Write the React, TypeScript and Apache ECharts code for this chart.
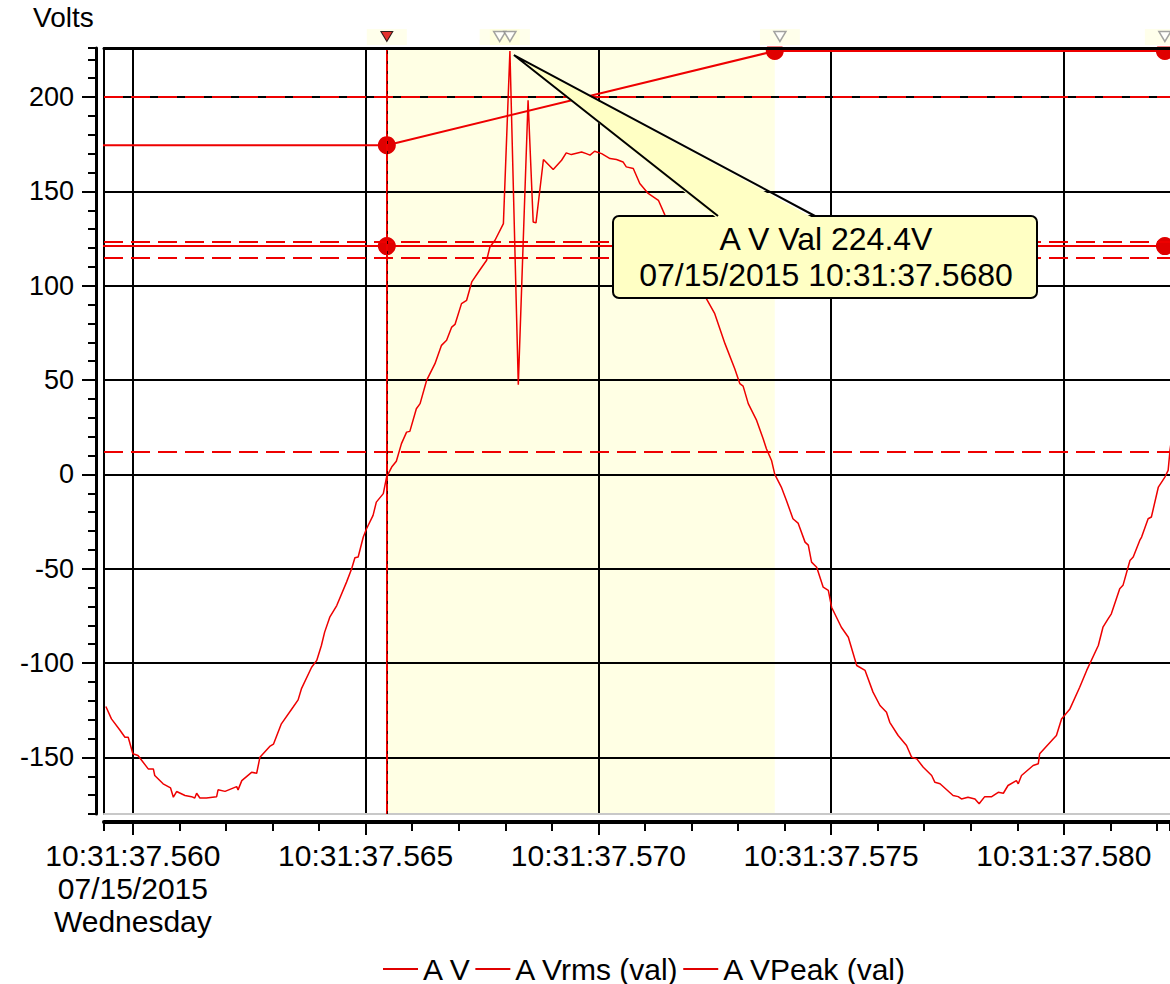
import React, { useEffect, useRef } from 'react';
import * as echarts from 'echarts';

const FONT = '"Liberation Sans", Arial, Helvetica, sans-serif';

// x values: milliseconds after 10:31:37.560 on 07/15/2015
const xMin = -0.62;
const xMax = 22.28;
const yMin = -180;
const yMax = 226;

const xTickValues = [0, 5, 10, 15, 20];
const xTickLabels = [
  '10:31:37.560\n07/15/2015\nWednesday',
  '10:31:37.565',
  '10:31:37.570',
  '10:31:37.575',
  '10:31:37.580',
];
const yTickValues = [-150, -100, -50, 0, 50, 100, 150, 200];
const yTickLabels = ['-150', '-100', '-50', '0', '50', '100', '150', '200'];

const seriesNames = ['A V', 'A Vrms (val)', 'A VPeak (val)'];

const avData: number[][] = [
  [-0.58, -123.0], [-0.46, -129.6], [-0.28, -135.5], [-0.17, -139.3], [-0.10, -139.3],
  [0.00, -148.1], [0.11, -149.0], [0.33, -156.1], [0.44, -156.1], [0.47, -159.6],
  [0.65, -164.0], [0.81, -166.2], [0.87, -171.1], [0.94, -168.1], [1.12, -170.2],
  [1.26, -170.8], [1.33, -171.5], [1.37, -169.0], [1.44, -171.5], [1.58, -171.5],
  [1.80, -170.8], [1.83, -167.2], [1.98, -168.0], [2.23, -165.5], [2.26, -167.2],
  [2.34, -162.3], [2.55, -157.9], [2.66, -158.4], [2.73, -149.9], [2.94, -144.2],
  [3.02, -143.0], [3.19, -132.2], [3.44, -123.4], [3.55, -119.5], [3.62, -113.7],
  [3.84, -102.2], [3.95, -98.6], [4.05, -90.7], [4.12, -83.6], [4.23, -75.7],
  [4.38, -69.5], [4.59, -57.1], [4.70, -50.0], [4.77, -44.2], [4.84, -43.8],
  [4.95, -33.2], [5.02, -28.8], [5.16, -21.7], [5.23, -14.7], [5.38, -10.2],
  [5.45, -1.4], [5.56, 3.9], [5.66, 7.0], [5.77, 16.3], [5.88, 22.4],
  [5.95, 22.8], [6.09, 34.8], [6.17, 37.5], [6.31, 49.8], [6.49, 58.7],
  [6.63, 68.4], [6.74, 71.1], [6.85, 78.1], [6.92, 79.5], [7.06, 90.5],
  [7.17, 92.3], [7.28, 102.0], [7.45, 108.2], [7.60, 113.5], [7.67, 120.5],
  [7.78, 124.1], [7.96, 132.9], [8.10, 224.4], [8.28, 47.5], [8.49, 198.3],
  [8.60, 133.8], [8.66, 133.3], [8.82, 166.9], [9.03, 161.6], [9.21, 166.5],
  [9.31, 170.4], [9.42, 169.5], [9.64, 170.9], [9.74, 170.0], [9.82, 169.2],
  [9.92, 171.3], [10.07, 170.0], [10.25, 167.4], [10.39, 166.9], [10.53, 165.6],
  [10.60, 163.0], [10.75, 162.1], [10.89, 154.2], [11.07, 148.9], [11.29, 145.3],
  [11.43, 137.4], [11.60, 128.5], [11.78, 120.0], [11.95, 111.0], [12.12, 102.5],
  [12.32, 93.2], [12.50, 85.2], [12.72, 69.3], [12.93, 56.0], [13.04, 48.1],
  [13.11, 46.8], [13.22, 37.5], [13.40, 28.6], [13.54, 18.9], [13.61, 13.6],
  [13.72, 7.4], [13.79, 0.0], [13.93, -6.7], [14.04, -13.8], [14.18, -23.5],
  [14.29, -25.8], [14.44, -35.9], [14.51, -37.5], [14.58, -46.5], [14.69, -49.2],
  [14.83, -59.8], [14.94, -61.5], [15.01, -70.4], [15.22, -81.0], [15.37, -86.3],
  [15.55, -101.3], [15.73, -103.9], [15.90, -115.4], [16.05, -122.5], [16.19, -126.1],
  [16.26, -131.4], [16.44, -138.4], [16.62, -143.7], [16.73, -149.9], [16.84, -150.8],
  [16.98, -155.2], [17.16, -159.6], [17.23, -163.2], [17.34, -164.0], [17.62, -170.2],
  [17.73, -170.8], [17.80, -172.0], [17.94, -171.1], [18.09, -172.0], [18.18, -174.6],
  [18.30, -170.8], [18.45, -170.8], [18.59, -168.5], [18.70, -169.0], [18.80, -164.9],
  [18.98, -162.3], [19.02, -164.0], [19.09, -159.6], [19.34, -154.3], [19.45, -153.4],
  [19.48, -148.1], [19.77, -140.2], [19.84, -138.4], [19.95, -129.6], [20.13, -124.3],
  [20.34, -112.8], [20.49, -103.9], [20.74, -90.7], [20.84, -81.0], [20.95, -76.6],
  [21.02, -73.9], [21.20, -60.6], [21.27, -58.8], [21.42, -45.6], [21.49, -43.8],
  [21.63, -35.0], [21.67, -33.2], [21.81, -23.5], [21.88, -22.6], [22.03, -6.7],
  [22.17, -1.4], [22.24, 2.1], [22.28, 12.7], [22.32, 20.0],
];

const vrmsData: number[][] = [[-3, 121.0], [5.456, 121.0], [22.17, 121.0], [26, 121.0]];
const vpeakData: number[][] = [[-3, 174.5], [5.456, 174.5], [13.79, 224.4], [22.17, 224.4], [26, 224.4]];

const limitLines = [200, 123.2, 114.7, 11.8];
const cursorT = 5.456;
const shadedRange = [5.456, 13.79];
const eventMarkers = [7.88, 8.10, 13.90, 22.17];
const peakPoint = [8.10, 224.4];
const peakTimeLabel = '07/15/2015 10:31:37.5680';

const RED = '#EE0000';
const DOT = '#E00000';

export default function App() {
  const ref = useRef<HTMLDivElement>(null);

  useEffect(() => {
    if (!ref.current) return;
    const chart = echarts.init(ref.current, null, { renderer: 'svg' });

    const baseX = { type: 'value', min: xMin, max: xMax, gridIndex: 0 };
    const baseY = { type: 'value', min: yMin, max: yMax, gridIndex: 0 };
    const hiddenParts = {
      axisLabel: { show: false },
      splitLine: { show: false },
      axisTick: { show: false },
    };

    const option: any = {
      animation: false,
      backgroundColor: '#ffffff',
      textStyle: { fontFamily: FONT },
      title: {
        text: 'Volts',
        left: 33,
        top: 3,
        padding: 0,
        textStyle: { fontSize: 28, fontWeight: 'normal', color: '#000', fontFamily: FONT },
      },
      grid: { left: 104, top: 48, right: 0, bottom: 170, show: false, containLabel: false, outerBoundsMode: 'none' },
      legend: {
        data: seriesNames,
        left: 383,
        top: 954,
        padding: 0,
        icon: 'rect',
        itemWidth: 35,
        itemHeight: 2,
        itemGap: 4,
        selectedMode: false,
        textStyle: { fontSize: 30, color: '#000', fontFamily: FONT },
      },
      xAxis: [
        {
          ...baseX,
          position: 'bottom',
          offset: 8,
          minInterval: 5,
          maxInterval: 5,
          axisLine: { show: true, onZero: false, lineStyle: { color: '#000', width: 4 } },
          axisTick: { show: true, length: 13, lineStyle: { color: '#000', width: 2 }, customValues: xTickValues },
          axisLabel: {
            show: true,
            customValues: xTickValues,
            margin: 17,
            fontSize: 30,
            lineHeight: 33,
            color: '#000',
            fontFamily: FONT,
            formatter: (v: number) => {
              const i = xTickValues.findIndex((t) => Math.abs(t - v) < 1e-6);
              return i >= 0 ? xTickLabels[i] : '';
            },
          },
          splitLine: { show: true, lineStyle: { color: '#000', width: 2 } },
        },
        {
          ...baseX,
          position: 'bottom',
          offset: 8,
          minInterval: 1,
          maxInterval: 1,
          axisLine: { show: false, onZero: false },
          axisTick: { show: true, length: 9, lineStyle: { color: '#000', width: 2 } },
          axisLabel: { show: false },
          splitLine: { show: false },
        },
        {
          ...baseX,
          position: 'top',
          offset: 0,
          z: 6,
          axisLine: { show: true, onZero: false, lineStyle: { color: '#000', width: 3 } },
          ...hiddenParts,
        },
        {
          ...baseX,
          position: 'bottom',
          offset: 0,
          z: 1,
          axisLine: { show: true, onZero: false, lineStyle: { color: '#C8C8C8', width: 2 } },
          ...hiddenParts,
        },
      ],
      yAxis: [
        {
          ...baseY,
          position: 'left',
          offset: 8,
          minInterval: 50,
          maxInterval: 50,
          axisLine: { show: true, onZero: false, lineStyle: { color: '#000', width: 3 } },
          axisTick: { show: true, length: 14, lineStyle: { color: '#000', width: 2 }, customValues: yTickValues },
          axisLabel: {
            show: true,
            customValues: yTickValues,
            margin: 22,
            fontSize: 27,
            color: '#000',
            fontFamily: FONT,
            formatter: (v: number) => {
              const i = yTickValues.findIndex((t) => Math.abs(t - v) < 1e-6);
              return i >= 0 ? yTickLabels[i] : '';
            },
          },
          splitLine: { show: true, lineStyle: { color: '#000', width: 2 } },
        },
        {
          ...baseY,
          position: 'left',
          offset: 8,
          minInterval: 10,
          maxInterval: 10,
          axisLine: { show: false, onZero: false },
          axisTick: { show: true, length: 8, lineStyle: { color: '#000', width: 2 } },
          axisLabel: { show: false },
          splitLine: { show: false },
        },
        {
          ...baseY,
          position: 'left',
          offset: 0,
          axisLine: { show: true, onZero: false, lineStyle: { color: '#000', width: 2 } },
          ...hiddenParts,
        },
      ],
      series: [
        {
          name: 'shade',
          type: 'custom',
          z: -1,
          silent: true,
          xAxisIndex: 0,
          yAxisIndex: 0,
          data: [shadedRange],
          renderItem: (params: any, api: any) => {
            const p0 = api.coord([api.value(0), yMax]);
            const p1 = api.coord([api.value(1), yMin]);
            return {
              type: 'rect',
              shape: { x: p0[0], y: p0[1], width: p1[0] - p0[0], height: p1[1] - p0[1] },
              style: { fill: '#FFFFE4' },
            };
          },
        },
        {
          name: 'A V',
          type: 'line',
          xAxisIndex: 0,
          yAxisIndex: 0,
          data: avData,
          symbol: 'none',
          showSymbol: false,
          z: 3,
          lineStyle: { color: RED, width: 1.5 },
          itemStyle: { color: DOT },
          silent: true,
          markLine: {
            silent: true,
            symbol: ['none', 'none'],
            label: { show: false },
            emphasis: { disabled: true },
            data: [
              ...limitLines.map((v) => ({ yAxis: v, lineStyle: { type: [19, 8], color: RED, width: 2 } })),
              { xAxis: cursorT, lineStyle: { type: 'solid', color: RED, width: 2 } },
              { xAxis: cursorT, lineStyle: { type: [3, 7], color: '#000', width: 1, opacity: 0.75 } },
            ],
          },
        },
        {
          name: 'A Vrms (val)',
          type: 'line',
          xAxisIndex: 0,
          yAxisIndex: 0,
          data: vrmsData,
          symbol: 'circle',
          symbolSize: 18,
          showSymbol: true,
          showAllSymbol: true,
          z: 4,
          silent: true,
          lineStyle: { color: RED, width: 2 },
          itemStyle: { color: DOT },
        },
        {
          name: 'A VPeak (val)',
          type: 'line',
          xAxisIndex: 0,
          yAxisIndex: 0,
          data: vpeakData,
          symbol: 'circle',
          symbolSize: 18,
          showSymbol: true,
          showAllSymbol: true,
          z: 4,
          silent: true,
          lineStyle: { color: RED, width: 2 },
          itemStyle: { color: DOT },
        },
        {
          name: 'glow',
          type: 'scatter',
          xAxisIndex: 0,
          yAxisIndex: 0,
          clip: false,
          silent: true,
          z: 9,
          data: [cursorT, ...eventMarkers].map((t) => [t, yMax]),
          symbol: 'rect',
          symbolSize: [40, 16],
          symbolOffset: [0, -11],
          itemStyle: { color: 'rgba(255,255,205,0.5)' },
        },
        {
          name: 'cursorMarker',
          type: 'scatter',
          xAxisIndex: 0,
          yAxisIndex: 0,
          clip: false,
          silent: true,
          z: 10,
          data: [[cursorT, yMax]],
          symbol: 'path://M0,0 L12,0 L6,10 Z',
          symbolSize: [12, 10],
          symbolOffset: [0, -11.5],
          itemStyle: { color: '#E00000', borderColor: '#000', borderWidth: 1 },
        },
        {
          name: 'eventMarkers',
          type: 'scatter',
          xAxisIndex: 0,
          yAxisIndex: 0,
          clip: false,
          silent: true,
          z: 10,
          data: eventMarkers.map((t) => [t, yMax]),
          symbol: 'path://M0,0 L12,0 L6,10 Z',
          symbolSize: [12, 10],
          symbolOffset: [0, -11.5],
          itemStyle: { color: '#FFFFFF', borderColor: '#8C8C8C', borderWidth: 1.5 },
        },
      ],
      graphic: [
        {
          id: 'cover',
          type: 'rect',
          silent: true,
          z: 5,
          shape: { x: 100, y: 0, width: 1070, height: 46.5 },
          style: { fill: '#ffffff' },
        },
      ],
    };

    chart.setOption(option);

    const tip = chart.convertToPixel({ xAxisIndex: 0, yAxisIndex: 0 }, peakPoint) as number[];
    const tx = tip[0] + 4;
    const ty = tip[1] + 4;
    const box = { x: 613, y: 216, w: 424, h: 82 };
    const baseL = 718;
    const baseR = 815;
    const fill = '#FFFFC4';

    chart.setOption({
      graphic: [
        {
          id: 'cover',
          type: 'rect',
          silent: true,
          z: 5,
          shape: { x: 100, y: 0, width: 1070, height: 46.5 },
          style: { fill: '#ffffff' },
        },
        {
          id: 'callout',
          type: 'group',
          z: 20,
          silent: true,
          children: [
            {
              type: 'rect',
              z: 20,
              shape: { x: box.x, y: box.y, width: box.w, height: box.h, r: 6 },
              style: { fill, stroke: '#000', lineWidth: 2 },
            },
            {
              type: 'polygon',
              z: 21,
              shape: { points: [[tx, ty], [baseL, box.y + 3], [baseR, box.y + 3]] },
              style: { fill, stroke: null },
            },
            {
              type: 'polyline',
              z: 22,
              shape: { points: [[baseL, box.y], [tx, ty], [baseR, box.y]] },
              style: { stroke: '#000', lineWidth: 2, fill: null },
            },
            {
              type: 'text',
              z: 23,
              style: {
                text: `A V Val ${peakPoint[1].toFixed(1)}V\n${peakTimeLabel}`,
                x: box.x + box.w / 2 + 1,
                y: box.y + box.h / 2,
                align: 'center',
                verticalAlign: 'middle',
                fontSize: 32,
                fontFamily: FONT,
                lineHeight: 36,
                fill: '#000',
              },
            },
          ],
        },
      ],
    });

    return () => {
      chart.dispose();
    };
  }, []);

  return (
    <div
      ref={ref}
      style={{ position: 'absolute', left: 0, top: 0, width: 1170, height: 984, background: '#fff' }}
    />
  );
}
